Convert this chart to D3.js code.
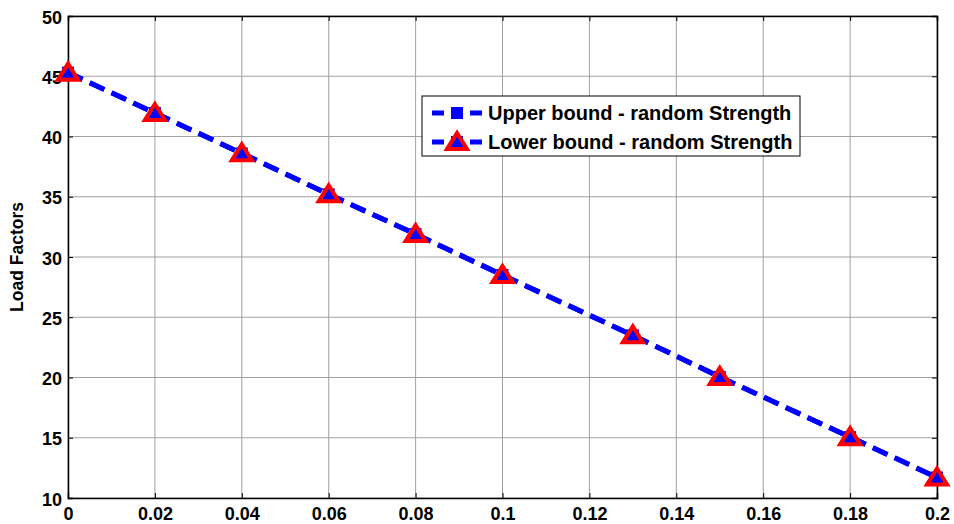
<!DOCTYPE html>
<html>
<head>
<meta charset="utf-8">
<script src="https://cdn.jsdelivr.net/npm/d3@7"></script>
<style>
  body { margin: 0; background: #fff; }
  text { font-family: "Liberation Sans", Arial, sans-serif; font-weight: bold; }
</style>
</head>
<body>
<script>
// values
var xVals = [0, 0.02, 0.04, 0.06, 0.08, 0.1, 0.13, 0.15, 0.18, 0.2];
var upper = [45.3, 41.95, 38.6, 35.2, 31.9, 28.5, 23.5, 20.05, 15.05, 11.7];
var lower = [45.3, 41.95, 38.6, 35.2, 31.9, 28.5, 23.5, 20.05, 15.05, 11.7];
var xTicks = [0, 0.02, 0.04, 0.06, 0.08, 0.1, 0.12, 0.14, 0.16, 0.18, 0.2];
var yTicks = [10, 15, 20, 25, 30, 35, 40, 45, 50];
var seriesNames = ['Upper bound - random Strength', 'Lower bound - random Strength'];

var W = 954, H = 524;
var m = {left: 68, right: 17, top: 16, bottom: 26};

var svg = d3.select('body').append('svg')
    .attr('width', W).attr('height', H);

var x = d3.scaleLinear().domain([0, 0.2]).range([m.left, W - m.right]);
var y = d3.scaleLinear().domain([10, 50]).range([H - m.bottom, m.top]);

// grid
svg.append('g').selectAll('line').data(xTicks).join('line')
    .attr('x1', d => x(d)).attr('x2', d => x(d))
    .attr('y1', y(10)).attr('y2', y(50))
    .attr('stroke', '#a0a0a0').attr('stroke-width', 1);
svg.append('g').selectAll('line').data(yTicks).join('line')
    .attr('x1', x(0)).attr('x2', x(0.2))
    .attr('y1', d => y(d)).attr('y2', d => y(d))
    .attr('stroke', '#a0a0a0').attr('stroke-width', 1);

// axes (ticks inside)
var xAxis = svg.append('g').attr('transform', 'translate(0,' + y(10) + ')')
    .call(d3.axisBottom(x).tickValues(xTicks).tickSize(-5).tickPadding(9)
        .tickFormat(d => d3.format('')(+d.toFixed(2))));
var xAxisTop = svg.append('g').attr('transform', 'translate(0,' + y(50) + ')')
    .call(d3.axisTop(x).tickValues(xTicks).tickSize(-5).tickFormat(''));
var yAxis = svg.append('g').attr('transform', 'translate(' + x(0) + ',0)')
    .call(d3.axisLeft(y).tickValues(yTicks).tickSize(-5).tickPadding(6));
var yAxisR = svg.append('g').attr('transform', 'translate(' + x(0.2) + ',0)')
    .call(d3.axisRight(y).tickValues(yTicks).tickSize(-5).tickFormat(''));

[xAxis, xAxisTop, yAxis, yAxisR].forEach(function(a) {
    a.selectAll('.domain').attr('stroke', '#000').attr('stroke-width', 1.5);
    a.selectAll('.tick line').attr('stroke', '#000');
    a.selectAll('text').attr('font-size', 18).attr('fill', '#000')
        .attr('font-family', '"Liberation Sans", Arial, sans-serif').attr('font-weight', 'bold');
});
yAxis.selectAll('text').attr('dy', '0.4em');

svg.append('text')
    .attr('transform', 'translate(23,' + ((y(10) + y(50)) / 2) + ') rotate(-90)')
    .attr('text-anchor', 'middle')
    .attr('font-size', 17.5)
    .text('Load Factors');

var line = d3.line().x((d, i) => x(xVals[i])).y(d => y(d));

// triangle marker outline
var tri = 'M0,-9L10,7L-10,7Z';

// upper bound
svg.append('path').datum(upper).attr('d', line)
    .attr('fill', 'none').attr('stroke', '#0000ff').attr('stroke-width', 5)
    .attr('stroke-dasharray', '16,8');
svg.append('g').selectAll('rect').data(upper).join('rect')
    .attr('x', (d, i) => x(xVals[i]) - 6).attr('y', d => y(d) - 6)
    .attr('width', 12).attr('height', 12).attr('fill', '#0000ff');

// lower bound
svg.append('path').datum(lower).attr('d', line)
    .attr('fill', 'none').attr('stroke', '#0000ff').attr('stroke-width', 5)
    .attr('stroke-dasharray', '16,8');
svg.append('g').selectAll('path').data(lower).join('path')
    .attr('d', tri)
    .attr('transform', (d, i) => 'translate(' + x(xVals[i]) + ',' + y(d) + ')')
    .attr('fill', 'none').attr('stroke', '#ff0000').attr('stroke-width', 4)
    .attr('stroke-linejoin', 'miter');

// legend
var lg = svg.append('g').attr('transform', 'translate(422,96)');
lg.append('rect').attr('width', 378).attr('height', 60)
    .attr('fill', '#fff').attr('stroke', '#000').attr('stroke-width', 1);
seriesNames.forEach(function(name, i) {
    var cy = 17 + i * 29;
    lg.append('line').attr('x1', 10).attr('x2', 61).attr('y1', cy).attr('y2', cy)
        .attr('stroke', '#0000ff').attr('stroke-width', 5).attr('stroke-dasharray', '12,7');
    if (i === 0) {
        lg.append('rect').attr('x', 29).attr('y', cy - 6).attr('width', 12).attr('height', 12)
            .attr('fill', '#0000ff');
    } else {
        lg.append('rect').attr('x', 29).attr('y', cy - 6).attr('width', 12).attr('height', 12)
            .attr('fill', '#0000ff');
        lg.append('path').attr('d', tri).attr('transform', 'translate(35,' + cy + ')')
            .attr('fill', 'none').attr('stroke', '#ff0000').attr('stroke-width', 4);
    }
    lg.append('text').attr('x', 66).attr('y', cy + 7).attr('font-size', 20).text(name);
});
</script>
</body>
</html>
